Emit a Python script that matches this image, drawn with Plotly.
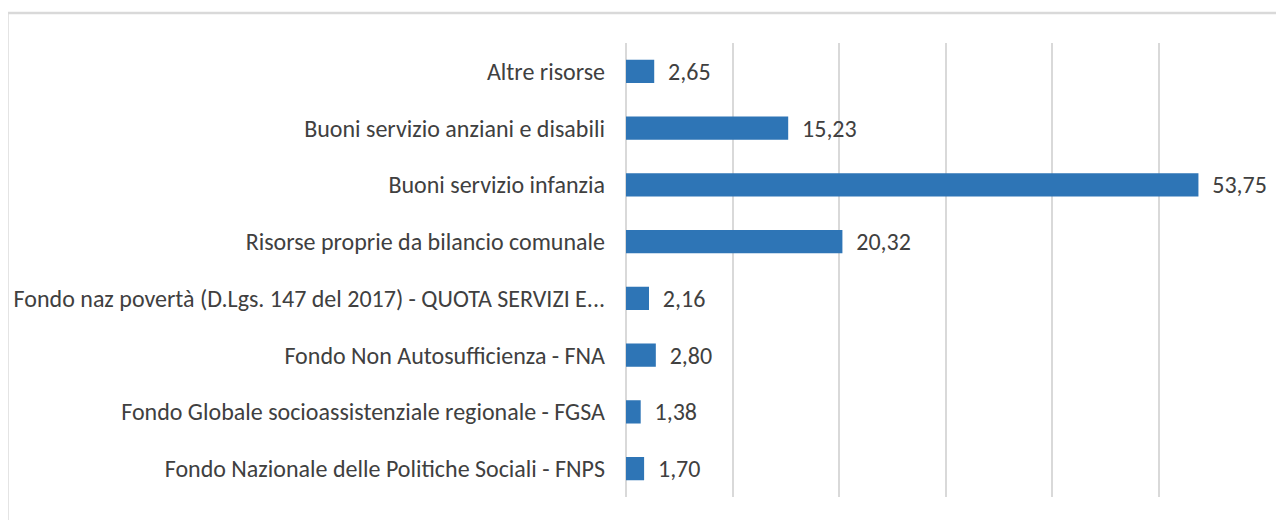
import plotly.graph_objects as go

categories = [
    "Fondo Nazionale delle Politiche Sociali - FNPS",
    "Fondo Globale socioassistenziale regionale - FGSA",
    "Fondo Non Autosufficienza - FNA",
    "Fondo naz povertà (D.Lgs. 147 del 2017) - QUOTA SERVIZI E...",
    "Risorse proprie da bilancio comunale",
    "Buoni servizio infanzia",
    "Buoni servizio anziani e disabili",
    "Altre risorse",
]
values = [1.70, 1.38, 2.80, 2.16, 20.32, 53.75, 15.23, 2.65]
x_ticks = [0, 10, 20, 30, 40, 50, 60]

FONT = "Carlito, Liberation Sans Narrow, Arial Narrow, sans-serif"
TXT = "#404040"
FS = 24

fig = go.Figure(
    go.Bar(
        y=categories,
        x=values,
        orientation="h",
        marker=dict(color="#2E75B6", line=dict(color="#2E75B6", width=0)),
        texttemplate="  %{x:.2f}",
        textposition="outside",
        constraintext="none",
        textfont=dict(family=FONT, size=FS, color=TXT),
        cliponaxis=False,
    )
)

fig.update_layout(
    width=1284,
    height=520,
    margin=dict(l=618, r=27, t=35, b=31),
    paper_bgcolor="white",
    plot_bgcolor="white",
    separators=", ",
    bargap=0.59,
    showlegend=False,
    font=dict(family=FONT, size=FS, color=TXT),
    xaxis=dict(
        range=[0, 60],
        tickvals=x_ticks,
        showticklabels=False,
        showgrid=True,
        gridcolor="#D9D9D9",
        gridwidth=1.5,
        zeroline=True,
        zerolinecolor="#D9D9D9",
        zerolinewidth=1.5,
        showline=False,
        fixedrange=True,
    ),
    yaxis=dict(
        categoryorder="array",
        categoryarray=categories,
        showgrid=False,
        showline=False,
        zeroline=False,
        ticks="",
        ticklabelstandoff=20,
        automargin=False,
        tickfont=dict(family=FONT, size=FS, color=TXT),
    ),
    shapes=[
        dict(
            type="rect",
            xref="paper",
            yref="paper",
            x0=-0.968,
            x1=1.2,
            y0=-0.3,
            y1=1.066,
            line=dict(color="#D9D9D9", width=2.5),
            fillcolor="rgba(0,0,0,0)",
            layer="below",
        )
    ],
)

fig.write_html("out.html")
